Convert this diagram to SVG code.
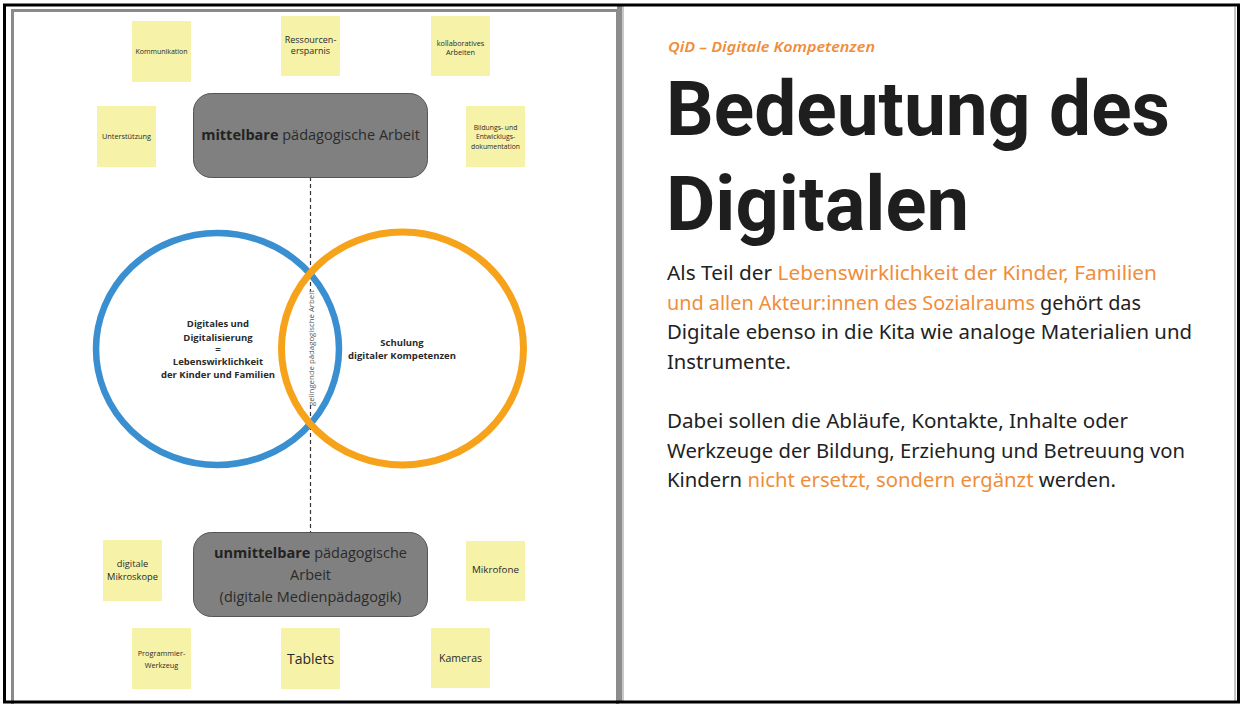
<svg xmlns="http://www.w3.org/2000/svg" width="1243" height="704" viewBox="0 0 1243 704">
<style>
.note{fill:#f6f2a8;}
.nt{font-family:"Open Sans","Noto Sans",sans-serif;fill:#2a2a2a;text-anchor:middle;}
.box{fill:#808080;stroke:#555;stroke-width:1;}
.bt{font-family:"Open Sans","Noto Sans",sans-serif;fill:#2b2b2b;text-anchor:middle;font-size:14.5px;}
.ct{font-family:"Open Sans","Noto Sans",sans-serif;fill:#2a2a2a;text-anchor:middle;font-size:9.5px;font-weight:bold;}
.body{font-family:"Noto Sans","Open Sans",sans-serif;fill:#222;font-size:19.5px;}
.or{fill:#f08d3a;}
</style>
<rect x="0" y="0" width="1243" height="704" fill="#fff"/>
<!-- frames -->
<path d="M12.5 712 V10.5 H617.5 V712" fill="none" stroke="#8a8a8a" stroke-width="3"/>
<rect x="617" y="6" width="5" height="697" fill="#8c8c8c"/>
<rect x="622" y="6" width="2" height="697" fill="#c8c8c8"/>
<line x1="1235" y1="7" x2="1235" y2="702" stroke="#888" stroke-width="1"/>
<rect x="4.5" y="5" width="1234" height="697" fill="none" stroke="#000" stroke-width="3"/>

<!-- connectors -->
<g id="connectors">
<line x1="310.5" y1="177" x2="310.5" y2="291" stroke="#333" stroke-width="1.2" stroke-dasharray="4 3"/>
<line x1="310.5" y1="405" x2="310.5" y2="532" stroke="#333" stroke-width="1.2" stroke-dasharray="4 3"/>
</g>

<!-- circles -->
<g id="circle-blue">
<ellipse cx="217.5" cy="349" rx="121.5" ry="116" fill="none" stroke="#3a8fd0" stroke-width="6.5"/>
<text class="ct"><tspan x="218" y="327">Digitales und</tspan><tspan x="218" y="341">Digitalisierung</tspan><tspan x="218" y="353">=</tspan><tspan x="218" y="365">Lebenswirklichkeit</tspan><tspan x="218" y="378">der Kinder und Familien</tspan></text>
</g>
<g id="circle-orange">
<ellipse cx="402.5" cy="348.5" rx="121" ry="116.5" fill="none" stroke="#f6a31b" stroke-width="7"/>
<text class="ct"><tspan x="402" y="346">Schulung</tspan><tspan x="402" y="359">digitaler Kompetenzen</tspan></text>
</g>
<g id="label-overlap">
<text x="314" y="348" transform="rotate(-90 314 348)" font-family="Open Sans, Noto Sans, sans-serif" font-size="7.8" fill="#555" text-anchor="middle">gelingende pädagogische Arbeit</text>
</g>

<!-- boxes -->
<g id="box-mittelbar">
<rect class="box" x="193.5" y="93.5" width="234" height="84" rx="18"/>
<text class="bt" x="310.5" y="140"><tspan font-weight="bold" fill="#222">mittelbare</tspan> pädagogische Arbeit</text>
</g>
<g id="box-unmittelbar">
<rect class="box" x="193.5" y="532.5" width="234" height="84" rx="18"/>
<text class="bt"><tspan x="310.5" y="558"><tspan font-weight="bold" fill="#222">unmittelbare</tspan> pädagogische</tspan><tspan x="310.5" y="580">Arbeit</tspan><tspan x="310.5" y="602">(digitale Medienpädagogik)</tspan></text>
</g>

<!-- notes top -->
<g id="note-kommunikation"><rect class="note" x="132" y="21" width="59" height="61"/><text class="nt" font-size="7" x="161.5" y="53.5">Kommunikation</text></g>
<g id="note-ressourcen"><rect class="note" x="281" y="16" width="59" height="60"/><text class="nt" font-size="9"><tspan x="310.5" y="42.5">Ressourcen-</tspan><tspan x="310.5" y="54">ersparnis</tspan></text></g>
<g id="note-kollaborativ"><rect class="note" x="431" y="16" width="59" height="60"/><text class="nt" font-size="7.3"><tspan x="460.5" y="45.5">kollaboratives</tspan><tspan x="460.5" y="55">Arbeiten</tspan></text></g>
<g id="note-unterstuetzung"><rect class="note" x="97" y="106" width="59" height="61"/><text class="nt" font-size="7.3" x="126.5" y="138.5">Unterstützung</text></g>
<g id="note-bildung"><rect class="note" x="466" y="106" width="59" height="61"/><text class="nt" font-size="6.8"><tspan x="495.5" y="129.5">Bildungs- und</tspan><tspan x="495.5" y="139">Entwicklugs-</tspan><tspan x="495.5" y="148.5">dokumentation</tspan></text></g>

<!-- notes bottom -->
<g id="note-mikroskope"><rect class="note" x="103" y="540" width="59" height="61"/><text class="nt" font-size="9.3"><tspan x="132.5" y="567">digitale</tspan><tspan x="132.5" y="579.5">Mikroskope</tspan></text></g>
<g id="note-mikrofone"><rect class="note" x="466" y="541" width="59" height="60"/><text class="nt" font-size="9.8" x="495.5" y="572.5">Mikrofone</text></g>
<g id="note-programmier"><rect class="note" x="132" y="628" width="59" height="61"/><text class="nt" font-size="7.3"><tspan x="161.5" y="655.5">Programmier-</tspan><tspan x="161.5" y="668">Werkzeug</tspan></text></g>
<g id="note-tablets"><rect class="note" x="281" y="628" width="59" height="61"/><text class="nt" font-size="14" x="310.5" y="664">Tablets</text></g>
<g id="note-kameras"><rect class="note" x="431" y="628" width="59" height="60"/><text class="nt" font-size="10.5" x="460.5" y="661.5">Kameras</text></g>

<!-- right panel -->
<g id="right-text">
<text x="668" y="52" font-family="Noto Sans, Open Sans, sans-serif" font-size="14" font-style="italic" font-weight="600" fill="#f08d3a" textLength="207" lengthAdjust="spacingAndGlyphs">QiD – Digitale Kompetenzen</text>
<text x="666" y="135" font-family="Roboto, Noto Sans, sans-serif" font-size="76" font-weight="bold" fill="#1e1e1e" textLength="504" lengthAdjust="spacingAndGlyphs">Bedeutung des</text>
<text x="666" y="230" font-family="Roboto, Noto Sans, sans-serif" font-size="76" font-weight="bold" fill="#1e1e1e" textLength="303" lengthAdjust="spacingAndGlyphs">Digitalen</text>
<text class="body" x="667" y="280" textLength="490" lengthAdjust="spacingAndGlyphs">Als Teil der <tspan class="or">Lebenswirklichkeit der Kinder, Familien</tspan></text>
<text class="body" x="667" y="309.5" textLength="474" lengthAdjust="spacingAndGlyphs"><tspan class="or">und allen Akteur:innen des Sozialraums</tspan> gehört das</text>
<text class="body" x="667" y="339" textLength="525" lengthAdjust="spacingAndGlyphs">Digitale ebenso in die Kita wie analoge Materialien und</text>
<text class="body" x="667" y="368.5" textLength="124" lengthAdjust="spacingAndGlyphs">Instrumente.</text>
<text class="body" x="667" y="428" textLength="461" lengthAdjust="spacingAndGlyphs">Dabei sollen die Abläufe, Kontakte, Inhalte oder</text>
<text class="body" x="667" y="457.5" textLength="518" lengthAdjust="spacingAndGlyphs">Werkzeuge der Bildung, Erziehung und Betreuung von</text>
<text class="body" x="667" y="487" textLength="449" lengthAdjust="spacingAndGlyphs">Kindern <tspan class="or">nicht ersetzt, sondern ergänzt</tspan> werden.</text>
</g>
</svg>
